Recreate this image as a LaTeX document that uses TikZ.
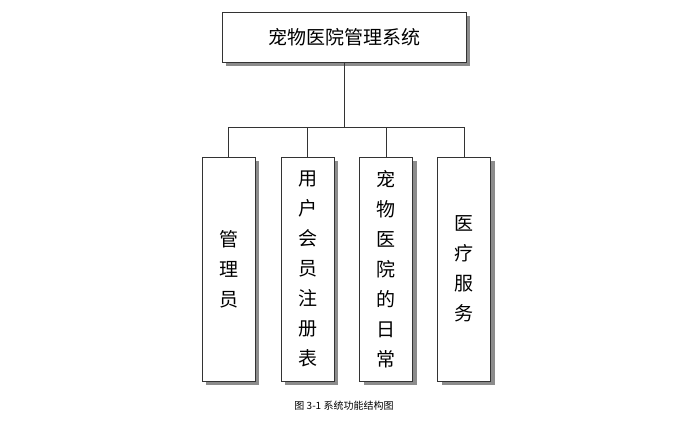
\documentclass[tikz,border=0pt]{standalone}
\usepackage{fontspec}
\newfontfamily\cjk{Noto Sans CJK SC}
\usetikzlibrary{shadows}
\begin{document}
\begin{tikzpicture}[x=1pt,y=-1pt,
  box/.style={draw=black!80,fill=white,line width=0.8pt,drop shadow={shadow xshift=4pt,shadow yshift=-4pt,fill=black!45,opacity=1}},
  sub/.style={box,minimum width=53pt,minimum height=224pt,inner sep=0pt,align=center,font=\cjk\fontsize{19}{30}\selectfont},
  conn/.style={draw=black!80,line width=0.8pt}]
\useasboundingbox (0,0) rectangle (680,423);
\node[box,minimum width=244pt,minimum height=50pt,font=\cjk\fontsize{19}{24}\selectfont] (top) at (344,37) {宠物医院管理系统};
\node[sub] (a) at (228.5,269) {管\\理\\员};
\node[sub] (b) at (307.5,269) {用\\户\\会\\员\\注\\册\\表};
\node[sub] (c) at (386,269) {宠\\物\\医\\院\\的\\日\\常};
\node[sub] (d) at (464,269) {医\\疗\\服\\务};
\coordinate (bus) at (344,127);
\draw[conn] (top.south) -- (bus);
\foreach \n in {a,b,c,d}{\draw[conn] (bus) -| (\n.north);}
\node[font=\cjk\fontsize{10}{12}\selectfont] (cap) at (344,406) {图 3-1 系统功能结构图};
\end{tikzpicture}
\end{document}
